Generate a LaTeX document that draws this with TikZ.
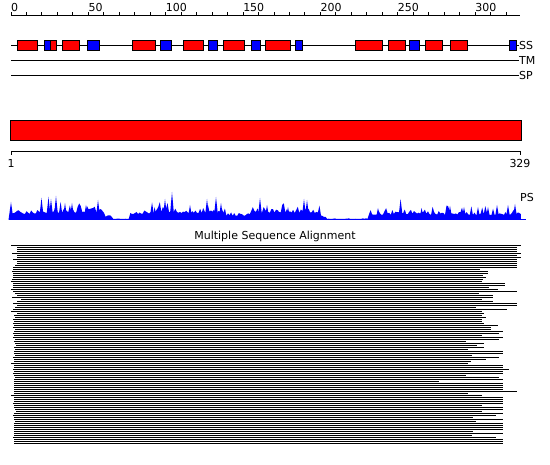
\documentclass[tikz,border=0pt]{standalone}
\usepackage{fontspec}
\newfontfamily\djv{DejaVu Sans}
\begin{document}
\begin{tikzpicture}[x=1pt,y=-1pt,
  lab/.style={font=\djv\fontsize{11}{13}\selectfont,inner sep=0pt},
  track/.style={line width=0.9pt,black},
  ssred/.style={fill=red,draw=black,line width=0.9pt},
  ssblue/.style={fill=blue,draw=black,line width=0.9pt},
  msa/.style={line width=1pt,black},
  declare function={
    psb(\x)=(\x<36)?6:((\x<105)?7:((\x<112)?3:((\x<130)?1:((\x<150)?6:((\x<225)?7:((\x<250)?4:((\x<320)?7:((\x<326)?3:((\x<368)?1:5)))))))));
    psa(\x)=(\x<36)?9:((\x<105)?12:((\x<112)?3:((\x<130)?1:((\x<150)?9:((\x<225)?12:((\x<250)?5:((\x<320)?11:((\x<326)?2:((\x<368)?1:10)))))))));
  }]
\useasboundingbox[fill=white] (0,0) rectangle (550,465);
\pgfmathsetseed{11}
% top ruler
\coordinate (r0) at (11,15);
\coordinate (r1) at (520,15);
\draw[track] (r0) -- (r1);
\foreach \r in {0,10,...,320} \draw[track] ({11+1.547*\r},15) -- ++(0,-3);
\foreach \r in {0,50,...,300} \node[lab,anchor=base west] (t\r) at ({11+1.547*\r},11.5) {\r};
% SS track
\coordinate (ss0) at (11,45);
\coordinate (ss1) at (519,45);
\draw[track] (ss0) -- (ss1);
\foreach \a/\b/\c in {17.3/37.3/ssred,44.3/50.7/ssblue,50.7/56.7/ssred,62.3/79.3/ssred,87.3/99.3/ssblue,132.3/155.3/ssred,160.3/171.7/ssblue,183.3/203.3/ssred,208.3/217.7/ssblue,223.3/244.3/ssred,251.3/260/ssblue,265.3/290.3/ssred,295.3/302.7/ssblue,355.7/382.3/ssred,388.3/405.3/ssred,409.7/419.3/ssblue,425.3/442.7/ssred,450.3/467.3/ssred,509.3/516.7/ssblue}
  \draw[\c] (\a,40.3) rectangle (\b,50.7);
\node[lab,anchor=west] (ss) at (ss1) {SS};
% TM, SP
\coordinate (tm0) at (11,60);
\coordinate (tm1) at (519,60);
\draw[track] (tm0) -- (tm1);
\node[lab,anchor=west] (tm) at (tm1) {TM};
\coordinate (sp0) at (11,75);
\coordinate (sp1) at (519,75);
\draw[track] (sp0) -- (sp1);
\node[lab,anchor=west] (sp) at (sp1) {SP};
% red domain bar
\draw[fill=red,draw=black,line width=0.9pt] (10.5,120.5) rectangle (521,140.5);
% lower ruler
\coordinate (l0) at (11,151);
\coordinate (l1) at (520,151);
\draw[track] (l0) -- (l1);
\draw[track] (l0) -- ++(0,4);
\draw[track] (l1) -- ++(0,4);
\node[lab,anchor=north] (n1) at (11,159) {1};
\node[lab,anchor=north] (n329) at (520,159) {329};
% PS profile
\fill[blue] (11,220) \foreach \i in {0,...,329} { -- ({11+1.55*\i},{220-psb(11+1.55*\i)-psa(11+1.55*\i)*rnd*rnd}) } -- (521,220) -- cycle;
\foreach \p/\h in {11/18,41.5/22,48.5/23,51/21,56/24,65/17,72/17,86/15,98/20,154.6/13,165/21,172/28,190/15,207/21,216/23,221/17,260/22,267/15,288/13,304/21,307/20,378/12,400.6/21,421.6/12,450/14,464/13,478/13,488/13,497/15,508/15,515/16}
  \fill[blue] ({\p-2.5},220) -- (\p,{220-\h}) -- ({\p+2.5},220) -- cycle;
\coordinate (ps0) at (11,220);
\coordinate (ps1) at (526,220);
\draw[blue,line width=1pt] (ps0) -- (ps1);
\node[lab,anchor=west] (ps) at (520,197) {PS};
% MSA
\node[lab,anchor=base] (msat) at (275,240) {Multiple Sequence Alignment};
\foreach \l/\r [count=\k from 0] in {11/521,17/517,17/517,17/517,12/521,17/517,17/521,13/517,17/517,17/517,15/517,13/517,13/480,12/488,13/488,13/483,13/486,12/483,11/482,13/505,13/505,13/489,11/498,13/517,15/479,17/493,12/493,21/482,17/493,13/517,17/517,15/476,13/507,11/482,17/484,14/482,15/486,13/482,14/482,13/484,14/498,13/491,15/491,14/503,13/499,14/482,13/503,15/499,14/466,15/484,16/477,14/484,15/468,14/503,14/503,15/472,13/499,14/486,14/471,11/468,14/503,14/503,13/509,14/503,13/503,14/466,15/499,14/503,14/439,14/503,14/503,14/503,14/503,14/517,14/468,11/482,14/503,14/503,14/503,13/503,14/482,14/503,15/503,16/482,14/503,13/496,14/473,14/503,15/476,14/503,14/503,14/503,14/503,14/473,14/503,14/472,13/496,14/503,14/503,14/503}
  \draw[msa] (\l,{245.5+2*\k}) -- (\r,{245.5+2*\k});
\end{tikzpicture}
\end{document}
